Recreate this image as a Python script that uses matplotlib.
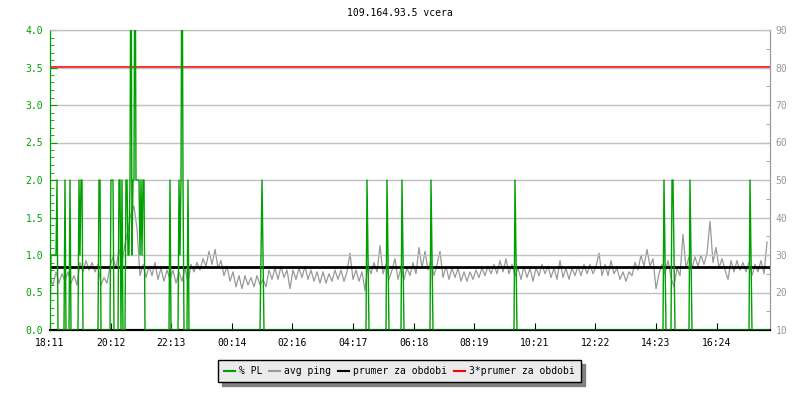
import numpy as np
import matplotlib.pyplot as plt
from matplotlib.lines import Line2D
from matplotlib.ticker import MultipleLocator

plt.rcParams['font.family'] = 'DejaVu Sans Mono'
plt.rcParams['font.size'] = 7

title = "109.164.93.5 vcera"
tick_labels = ["18:11", "20:12", "22:13", "00:14", "02:16", "04:17",
               "06:18", "08:19", "10:21", "12:22", "14:23", "16:24"]
tick_step = 121.2      # minut mezi popisky
total_min = 1440

# avg ping [ms], jeden vzorek kazdych 6 minut, jeden radek = 2 hodiny
ping_step = 6
ping = [
    24.0, 22.0, 25.5, 22.5, 25.0, 23.0, 25.5, 22.5, 24.5, 22.0, 28.0, 25.5, 28.5, 26.0, 28.0, 25.5, 27.5, 22.0, 24.0, 22.5,
    27.0, 29.5, 26.5, 31.5, 28.0, 33.0, 36.5, 41.0, 43.0, 37.0, 24.5, 27.5, 24.0, 27.0, 24.5, 28.0, 23.5, 26.5, 23.0, 26.0,
    23.5, 26.0, 22.5, 25.5, 23.0, 26.5, 22.5, 27.5, 25.5, 28.0, 26.0, 29.0, 27.0, 31.0, 27.5, 31.5, 26.5, 28.5, 24.5, 27.0,
    23.0, 25.5, 21.5, 24.5, 21.0, 24.5, 22.0, 24.0, 21.5, 24.5, 22.0, 23.5, 21.5, 26.0, 23.5, 26.5, 23.5, 27.0, 24.0, 26.0,
    21.0, 26.0, 23.5, 26.5, 24.0, 27.0, 23.5, 26.0, 23.0, 25.5, 22.5, 25.5, 22.5, 25.0, 23.0, 26.0, 23.5, 26.0, 23.0, 25.5,
    30.5, 23.5, 26.0, 23.0, 25.5, 20.5, 27.5, 25.0, 28.0, 25.5, 32.5, 25.0, 27.5, 23.5, 26.0, 29.0, 23.5, 26.5, 23.5, 26.5,
    24.5, 28.0, 25.0, 32.0, 26.5, 31.0, 26.0, 28.5, 24.5, 27.5, 31.0, 24.0, 27.0, 23.5, 26.5, 24.0, 26.5, 23.0, 25.5, 23.0,
    25.5, 23.5, 26.0, 24.0, 26.5, 24.5, 27.0, 25.0, 27.5, 25.0, 28.5, 25.5, 29.0, 25.0, 27.5, 24.5, 26.5, 23.5, 27.0, 24.0,
    26.5, 23.0, 26.5, 24.5, 27.5, 25.0, 27.0, 24.0, 26.5, 23.5, 28.5, 24.0, 26.5, 23.5, 26.5, 24.5, 27.0, 24.5, 27.5, 25.0,
    27.5, 25.0, 27.0, 30.5, 24.5, 27.5, 24.5, 28.5, 25.0, 26.5, 23.5, 25.5, 23.0, 25.5, 24.5, 28.0, 26.0, 30.0, 27.0, 31.5,
    27.0, 29.0, 21.0, 25.0, 27.5, 25.0, 28.5, 24.0, 21.5, 26.5, 24.5, 35.5, 26.5, 29.5, 26.5, 29.5, 27.0, 30.0, 27.5, 30.5,
    39.0, 28.0, 32.0, 26.5, 29.0, 26.0, 23.5, 28.5, 25.5, 28.5, 26.0, 28.0, 25.5, 28.0, 24.5, 27.5, 25.5, 28.5, 25.0, 33.5,
]
prumer = 26.75

# % PL: (zacatek v minutach, hodnoty po 2 minutach), jinak 0
pl_step = 2
pl_events = [
    (2, [1, 1, 1, 1, 1, 1, 2]),
    (30, [2]),
    (40, [2]),
    (58, [2, 1, 2, 2]),
    (98, [2, 2]),
    (122, [2, 2, 2]),
    (138, [2, 2]),
    (144, [2]),
    (152, [2, 2, 1, 1, 2, 6, 1, 2, 2, 6, 2, 2, 2, 2, 1, 2, 1, 2, 2]),
    (240, [2]),
    (258, [2, 1, 2, 6, 2]),
    (276, [2]),
    (422, [1, 2, 1]),
    (634, [2, 1]),
    (674, [2, 1]),
    (704, [2, 1]),
    (762, [2, 1]),
    (930, [2, 1]),
    (1228, [2, 1]),
    (1244, [2, 2, 1]),
    (1280, [2, 1]),
    (1400, [2, 1]),
]

green = '#00a000'
gray = '#999999'
gridc = '#c0c0c0'

pl_t = [0]
pl_v = [0]
for start, vals in pl_events:
    pl_t.append(start - pl_step)
    pl_v.append(0)
    for i, v in enumerate(vals):
        pl_t.append(start + i * pl_step)
        pl_v.append(v)
    pl_t.append(start + len(vals) * pl_step)
    pl_v.append(0)
pl_t.append(total_min)
pl_v.append(0)

ping_t = np.arange(len(ping)) * ping_step

fig = plt.figure(figsize=(8, 4), dpi=100)
ax = fig.add_axes([50/800, 70/400, 720/800, 300/400])
ax2 = ax.twinx()

for y in np.arange(0.5, 4.01, 0.5):
    ax.axhline(y, color=gridc, lw=1, zorder=0)

ax.plot(pl_t, pl_v, color=green, lw=1, zorder=3)
ax2.plot(ping_t, ping, color=gray, lw=0.9, zorder=2)
ax2.axhline(prumer, color='black', lw=2, zorder=4)
ax2.axhline(3 * prumer, color='red', lw=1.2, zorder=4)

ax.set_xlim(0, total_min)
ax.set_ylim(0, 4)
ax2.set_ylim(10, 90)
ax.set_zorder(ax2.get_zorder() + 1)
ax.patch.set_visible(False)

ax.set_xticks(np.arange(len(tick_labels)) * tick_step)
ax.set_xticklabels(tick_labels)
ax.yaxis.set_major_locator(MultipleLocator(0.5))
ax.yaxis.set_minor_locator(MultipleLocator(0.1))
ax.yaxis.set_major_formatter(lambda v, p: f"{v:.1f}")
ax2.yaxis.set_major_locator(MultipleLocator(10))
ax2.yaxis.set_minor_locator(MultipleLocator(5))

ax.tick_params(axis='y', which='both', direction='in', colors=green, labelcolor=green, pad=5)
ax.tick_params(axis='y', which='major', length=5)
ax.tick_params(axis='y', which='minor', length=3)
ax.tick_params(axis='x', direction='in', length=5, pad=6, colors='black')
ax2.tick_params(axis='y', which='both', direction='in', colors=gray, labelcolor=gray, pad=4)
ax2.tick_params(axis='y', which='major', length=5)
ax2.tick_params(axis='y', which='minor', length=3)

for a in (ax, ax2):
    a.spines['top'].set_color(gridc)
    a.spines['left'].set_color(green)
    a.spines['right'].set_color(gray)
    a.spines['bottom'].set_color('black')
    a.spines['bottom'].set_linewidth(1.5)

fig.text(0.5, 1 - 13.5/400, title, ha='center', va='center', fontsize=7)

handles = [Line2D([], [], color=green, lw=1.5),
           Line2D([], [], color=gray, lw=1.5),
           Line2D([], [], color='black', lw=1.5),
           Line2D([], [], color='red', lw=1.5)]
labels = ["% PL", "avg ping", "prumer za obdobi", "3*prumer za obdobi"]
leg = fig.legend(handles, labels, loc='center', bbox_to_anchor=(0.499, 1 - 371/400),
                 ncol=4, frameon=True, fancybox=False,
                 shadow={'color': '#808080', 'alpha': 1, 'ox': 3, 'oy': -3},
                 handlelength=1.15, handletextpad=0.4, columnspacing=0.7,
                 borderpad=0.6, fontsize=7)
leg.get_frame().set_facecolor('#ebebeb')
leg.get_frame().set_edgecolor('black')
leg.get_frame().set_linewidth(1)

plt.savefig("out.png", dpi=100)
